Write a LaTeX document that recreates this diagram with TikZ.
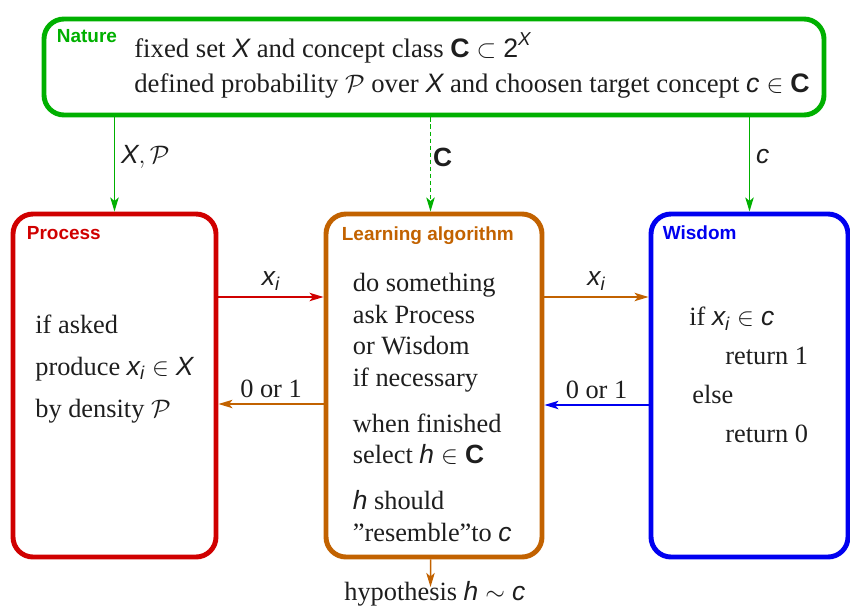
\documentclass[tikz,border=0pt]{standalone}
\usepackage{amsmath}
\usepackage{fontspec}
\setmainfont{Liberation Serif}
\setsansfont{Liberation Sans}
\usepackage{xcolor}
\definecolor{ink}{RGB}{30,30,30}
\definecolor{natgreen}{RGB}{0,176,0}
\definecolor{procred}{RGB}{208,0,0}
\definecolor{algobrown}{RGB}{194,98,0}
\definecolor{wisblue}{RGB}{0,0,240}
\usepackage{tikz}
\usetikzlibrary{arrows.meta,positioning,calc}
\newcommand{\sv}[1]{\textsf{\itshape #1}}
\newcommand{\sC}{\textsf{\bfseries C}}
\tikzset{
  %% rounded frames of the four parties
  cardbox/.style={draw=#1, line width=2.8pt, rounded corners=0.4cm,
                  minimum height=6.86cm, inner sep=0pt},
  ttl/.style={font=\fontsize{10.8}{12}\selectfont\sffamily\bfseries,
              text=#1, anchor=base west, inner sep=0pt},
  body/.style={text=ink, align=left, inner sep=0pt, anchor=base west},
  link/.style={draw=#1, line width=0.85pt,
               -{Stealth[length=8pt,width=4.8pt,inset=2pt]}},
  lbl/.style={font=\fontsize{15}{18}\selectfont, text=ink},
}

\begin{document}
\begin{tikzpicture}
  \useasboundingbox (0,0) rectangle (17,12.14);
  %% boxes
  \node[cardbox=natgreen, minimum width=15.6cm, minimum height=1.92cm]
    (nature) at (8.68,10.80) {};
  \node[cardbox=procred, minimum width=4.06cm]   (process) at (2.29,4.43) {};
  \node[cardbox=algobrown, minimum width=4.32cm] (learn)   at (8.68,4.43) {};
  \node[cardbox=wisblue, minimum width=3.94cm]   (wisdom)  at (14.99,4.43) {};
  %% titles
  \node[ttl=natgreen]  (natTtl)   at ([shift={(0.30,-0.51)}]nature.north west)  {Nature};
  \node[ttl=procred]   (procTtl)  at ([shift={(0.32,-0.55)}]process.north west) {Process};
  \node[ttl=algobrown] (learnTtl) at ([shift={(0.36,-0.57)}]learn.north west)   {Learning algorithm};
  \node[ttl=wisblue]   (wisTtl)   at ([shift={(0.28,-0.55)}]wisdom.north west)  {Wisdom};
  %% texts (base = last line)
  \node[body, font=\fontsize{15.2}{19.9}\selectfont] (natTxt) at (2.68,10.30)
    {fixed set $\sv{X}$ and concept class $\sC\subset\textsf{2}^{\sv{X}}$\\
     defined probability $\mathcal{P}$ over $\sv{X}$ and choosen target concept $\sv{c}\in\sC$};
  \node[body, font=\fontsize{15}{23.8}\selectfont] (procTxt) at (0.70,3.80)
    {if asked\\produce $\sv{x}_{\sv{i}}\in\sv{X}$\\by density $\mathcal{P}$};
  \node[body, font=\fontsize{15}{17.9}\selectfont] (learnTxt) at (7.05,1.32)
    {do something\\ask Process\\or Wisdom\\if necessary\\[0.29cm]
     when finished\\select $\sv{h}\in\sC$\\[0.29cm]
     $\sv{h}$ should\\''resemble''to $\sv{c}$};
  \node[body, font=\fontsize{15}{22.1}\selectfont] (wisTxt) at (13.78,3.30)
    {if $\sv{x}_{\sv{i}}\in\sv{c}$\\\hspace*{0.72cm}return 1\\
     \hspace*{0.06cm}else\\\hspace*{0.72cm}return 0};
  \node[lbl, anchor=base west, inner sep=0pt] (hypo) at (6.88,0.14)
    {hypothesis $\sv{h}\sim\sv{c}$};
  %% from nature
  \draw[link=natgreen] (process.north |- nature.south)
    -- node[lbl, right, pos=0.42] {$\sv{X},\mathcal{P}$} (process.north);
  \draw[link=natgreen, dash pattern=on 2.3pt off 1.7pt]
    ([xshift=-0.07cm]learn.north |- nature.south)
    -- node[lbl, right, pos=0.42, inner sep=1pt] {\sC} ([xshift=-0.07cm]learn.north);
  \draw[link=natgreen] (wisdom.north |- nature.south)
    -- node[lbl, right, pos=0.42] {$\sv{c}$} (wisdom.north);
  %% exchanges
  \draw[link=procred] ([yshift=1.77cm]process.east)
    -- node[lbl, above] {$\sv{x}_{\sv{i}}$} ([yshift=1.77cm]learn.west);
  \draw[link=algobrown] ([yshift=-0.37cm]learn.west)
    -- node[lbl, above] {0 or 1} ([yshift=-0.37cm]process.east);
  \draw[link=algobrown] ([yshift=1.77cm]learn.east)
    -- node[lbl, above] {$\sv{x}_{\sv{i}}$} ([yshift=1.77cm]wisdom.west);
  \draw[link=wisblue] ([yshift=-0.39cm]wisdom.west)
    -- node[lbl, above] {0 or 1} ([yshift=-0.39cm]learn.east);
  %% result
  \coordinate (hypoTip) at (8.61,0.40);
  \draw[link=algobrown] ([xshift=-0.07cm]learn.south) -- (hypoTip);
\end{tikzpicture}
\end{document}
